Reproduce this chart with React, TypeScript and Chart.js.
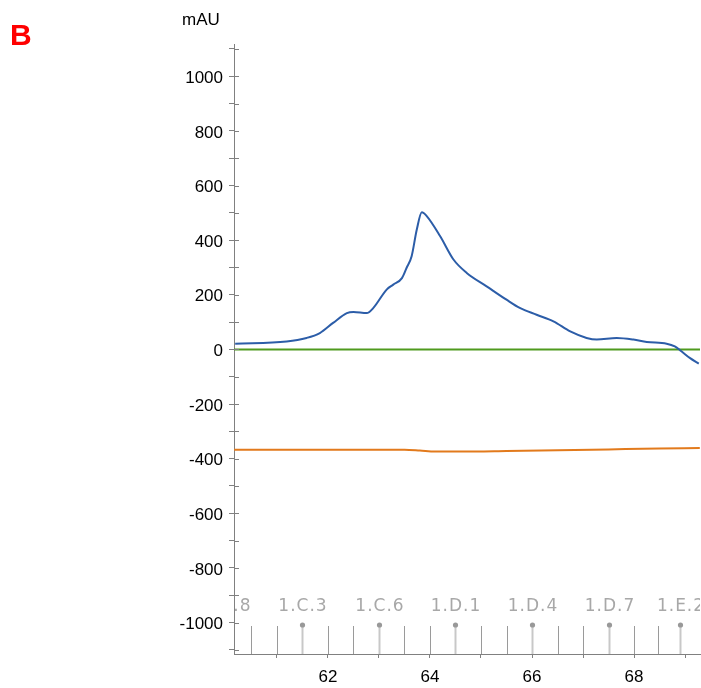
import { useEffect, useRef } from 'react';
import { Chart, registerables } from 'chart.js';

Chart.register(...registerables);

// ---- data ----
const X_MIN = 60.157;
const X_MAX = 69.294;
const Y_MIN = -1115;
const Y_MAX = 1118;

const uvTime = [60.18, 61.19, 61.58, 61.84, 62.1, 62.37, 62.5, 62.76, 62.89, 63.15, 63.28, 63.45, 63.54, 63.64, 63.74, 63.84, 63.94, 64.2, 64.46, 64.72, 65.11, 65.5, 65.76, 66.09, 66.42, 66.75, 67.07, 67.27, 67.66, 67.99, 68.25, 68.64, 68.8, 68.93, 69.1, 69.27];
const uvAbs = [21, 29, 42, 60, 97, 133, 137, 133, 152, 219, 237, 261, 298, 341, 438, 502, 487, 414, 329, 280, 231, 182, 152, 127, 103, 66, 42, 36, 42, 36, 27, 21, 11, -7, -32, -52];

const condTime = [60.16, 63.5, 63.8, 64.1, 64.6, 65.5, 66.5, 67.5, 68.5, 69.29];
const condValue = [-367, -367, -370, -374, -374, -372, -369, -366, -363, -361];

const baseTime = [X_MIN, X_MAX];
const baseValue = [0, 0];

const fractionStart = [60.0, 60.5, 61.0, 61.5, 62.0, 62.5, 63.0, 63.5, 64.0, 64.5, 65.0, 65.5, 66.0, 66.5, 67.0, 67.5, 68.0, 68.48, 68.91];
const fractionLabel = ['1.B.8', '1.C.1', '1.C.2', '1.C.3', '1.C.4', '1.C.5', '1.C.6', '1.C.7', '1.C.8', '1.D.1', '1.D.2', '1.D.3', '1.D.4', '1.D.5', '1.D.6', '1.D.7', '1.D.8', '1.E.1', '1.E.2'];
const fractionMarked = [true, false, false, true, false, false, true, false, false, true, false, false, true, false, false, true, false, false, true];

const AXIS_GRAY = '#808080';

const decorPlugin = {
  id: 'decor',
  beforeDatasetsDraw(chart: any) {
    const { ctx, chartArea, scales } = chart;
    const xs = scales.x;
    ctx.save();
    ctx.beginPath();
    ctx.rect(chartArea.left + 1, chartArea.top, chartArea.right - chartArea.left - 1, chartArea.bottom - chartArea.top);
    ctx.clip();
    const bottom = chartArea.bottom;
    const lineTop = bottom - 29;
    const labelY = bottom - 47;
    fractionStart.forEach((v, i) => {
      const px = Math.round(xs.getPixelForValue(v)) + 0.5;
      if (fractionMarked[i]) {
        ctx.strokeStyle = '#c8c8c8';
        ctx.lineWidth = 2;
        ctx.beginPath();
        ctx.moveTo(px, lineTop);
        ctx.lineTo(px, bottom);
        ctx.stroke();
        ctx.fillStyle = '#999999';
        ctx.beginPath();
        ctx.arc(px, lineTop, 2.6, 0, Math.PI * 2);
        ctx.fill();
        ctx.fillStyle = '#a8a8a8';
        ctx.font = '17px "DejaVu Sans"';
        (ctx as any).letterSpacing = '1px';
        ctx.textAlign = 'center';
        ctx.textBaseline = 'middle';
        ctx.fillText(fractionLabel[i], px + 0.5, labelY);
      } else {
        ctx.strokeStyle = '#9a9a9a';
        ctx.lineWidth = 1;
        ctx.beginPath();
        ctx.moveTo(px, lineTop + 1);
        ctx.lineTo(px, bottom);
        ctx.stroke();
      }
    });
    ctx.restore();
  },
  afterDraw(chart: any) {
    const { ctx, chartArea, scales } = chart;
    const ys = scales.y;
    ctx.save();
    ctx.strokeStyle = AXIS_GRAY;
    ctx.lineWidth = 1;
    ys.ticks.forEach((t: any) => {
      const py = Math.round(ys.getPixelForValue(t.value)) + 0.5;
      ctx.beginPath();
      ctx.moveTo(chartArea.left, py);
      ctx.lineTo(chartArea.left + 5, py);
      ctx.stroke();
    });
    ctx.restore();
  },
};

export default function App() {
  const ref = useRef<HTMLCanvasElement>(null);
  useEffect(() => {
    if (!ref.current) return;
    const chart = new Chart(ref.current, {
      type: 'line',
      data: {
        datasets: [
          {
            label: 'UV',
            data: uvTime.map((t, i) => ({ x: t, y: uvAbs[i] })),
            borderColor: '#2c5da8',
            borderWidth: 2,
            pointRadius: 0,
            cubicInterpolationMode: 'monotone',
            fill: false,
          },
          {
            label: 'Baseline',
            data: baseTime.map((t, i) => ({ x: t, y: baseValue[i] })),
            borderColor: '#4f9a1e',
            borderWidth: 2,
            pointRadius: 0,
            fill: false,
          },
          {
            label: 'Cond',
            data: condTime.map((t, i) => ({ x: t, y: condValue[i] })),
            borderColor: '#e27a1c',
            borderWidth: 2,
            pointRadius: 0,
            cubicInterpolationMode: 'monotone',
            fill: false,
          },
        ],
      },
      options: {
        responsive: false,
        animation: false,
        events: [],
        layout: { padding: { top: 44, right: 1, left: 0, bottom: 0 } },
        plugins: { legend: { display: false }, tooltip: { enabled: false } },
        scales: {
          x: {
            type: 'linear',
            min: X_MIN,
            max: X_MAX,
            afterFit: (s: any) => { s.height = 34; },
            border: { display: true, color: AXIS_GRAY, width: 1 },
            grid: { drawOnChartArea: false, drawTicks: true, tickLength: 4, color: AXIS_GRAY },
            ticks: {
              stepSize: 1,
              includeBounds: false,
              autoSkip: false,
              maxRotation: 0,
              padding: 9,
              color: '#000',
              font: { family: '"Liberation Sans", Arial, sans-serif', size: 17 },
              callback: (v: any) => (Math.round(v) % 2 === 0 ? String(Math.round(v)) : ''),
            },
          },
          y: {
            type: 'linear',
            min: Y_MIN,
            max: Y_MAX,
            afterFit: (s: any) => { s.width = 234; },
            border: { display: true, color: AXIS_GRAY, width: 1 },
            grid: { drawOnChartArea: false, drawTicks: true, tickLength: 5, color: AXIS_GRAY },
            ticks: {
              stepSize: 100,
              includeBounds: false,
              autoSkip: false,
              padding: 6,
              labelOffset: 2,
              color: '#000',
              font: { family: '"Liberation Sans", Arial, sans-serif', size: 17 },
              callback: (v: any) => (Math.round(v) % 200 === 0 ? String(Math.round(v)) : ''),
            },
          },
        },
      },
      plugins: [decorPlugin],
    } as any);
    return () => chart.destroy();
  }, []);

  return (
    <div style={{ position: 'absolute', left: 0, top: 0, width: 701, height: 688, background: '#fff' }}>
      <canvas ref={ref} width={701} height={688} style={{ position: 'absolute', left: 0, top: 0 }} />
      <div style={{ position: 'absolute', left: 10, top: 18, font: 'bold 30px "Liberation Sans", Arial, sans-serif', lineHeight: '34px', color: '#ff0000' }}>B</div>
      <div style={{ position: 'absolute', left: 182, top: 10, font: '17px "Liberation Sans", Arial, sans-serif', lineHeight: '20px', color: '#000' }}>mAU</div>
    </div>
  );
}
